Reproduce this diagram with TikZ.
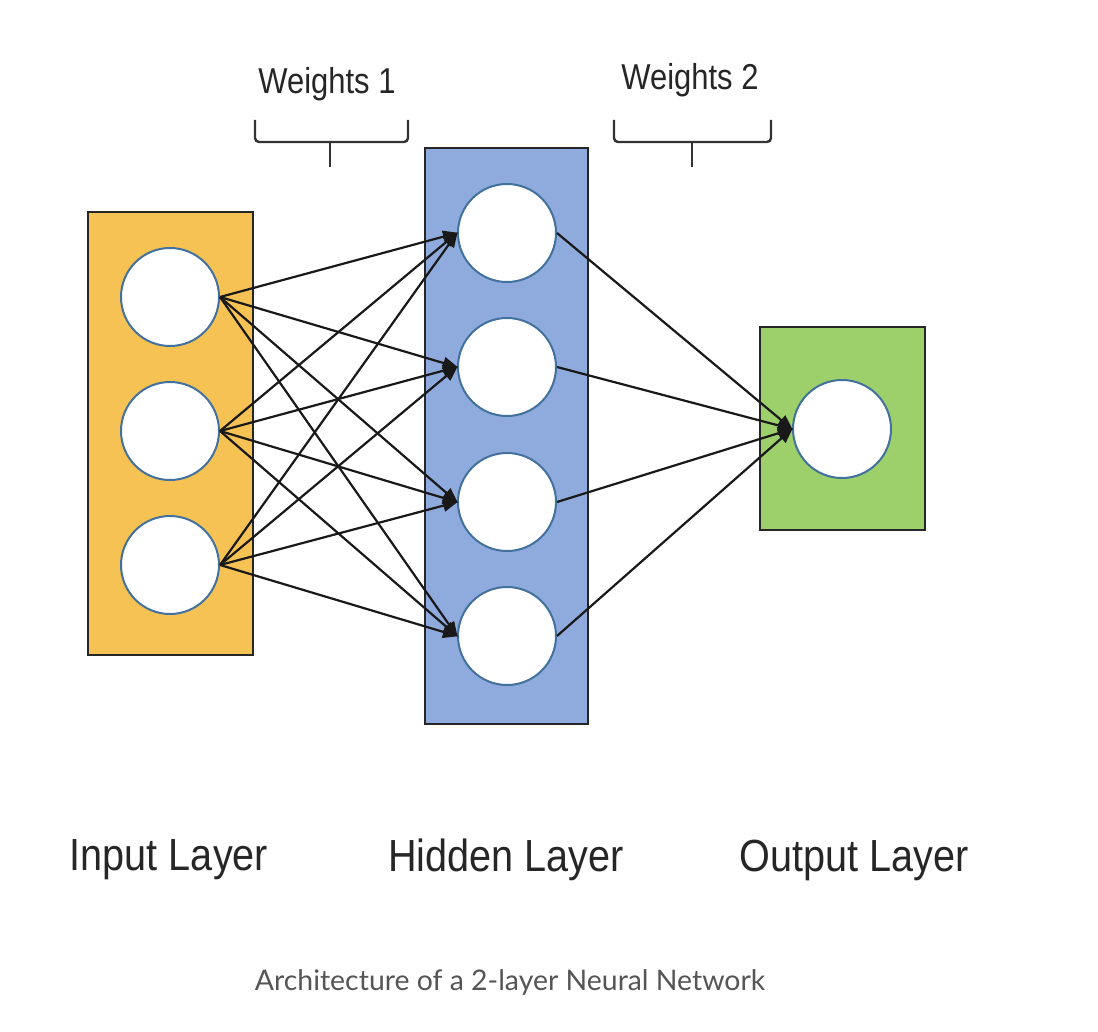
\documentclass[tikz,border=0pt]{standalone}
\usepackage{fontspec}
\setmainfont{Liberation Sans}
\newfontfamily\capfont{Lato}
\usetikzlibrary{arrows.meta}
\definecolor{inorange}{HTML}{F6C254}
\definecolor{hidblue}{HTML}{8FAADC}
\definecolor{outgreen}{HTML}{9DD06B}
\definecolor{ringblue}{HTML}{41719C}
\definecolor{capgray}{HTML}{555555}
\tikzset{
  layerbox/.style={draw=black!85, line width=2.2pt},
  neuron/.style={circle, draw=ringblue, line width=2pt, fill=white, minimum size=98pt, inner sep=0pt},
  conn/.style={draw=black!90, line width=2.2pt, -{Triangle[length=15pt,width=12pt]}, shorten >=-1pt},
  brace/.style={draw=black!80, line width=2.4pt, rounded corners=4pt},
  wlabel/.style={font=\fontsize{36}{40}\selectfont, text=black!85, inner sep=0pt},
  llabel/.style={font=\fontsize{45}{50}\selectfont, text=black!85, inner sep=0pt},
}
\begin{document}
\begin{tikzpicture}[x=1pt,y=-1pt]
\useasboundingbox[fill=white] (0,0) rectangle (1098,1032);
% layer boxes
\draw[layerbox, fill=inorange] (88,212) rectangle (253,655);
\draw[layerbox, fill=hidblue] (425,148) rectangle (588,724);
\draw[layerbox, fill=outgreen] (760,327) rectangle (925,530);
% neurons
\node[neuron] (i1) at (170,297) {};
\node[neuron] (i2) at (170,431) {};
\node[neuron] (i3) at (170,565) {};
\node[neuron] (h1) at (507,233) {};
\node[neuron] (h2) at (507,367) {};
\node[neuron] (h3) at (507,502) {};
\node[neuron] (h4) at (507,636) {};
\node[neuron] (o1) at (842,429) {};
% connections
\foreach \i in {1,2,3}{
  \foreach \h in {1,2,3,4}{
    \draw[conn] (i\i.east) -- (h\h.west);
  }
}
\foreach \h in {1,2,3,4}{
  \draw[conn] (h\h.east) -- (o1.west);
}
% braces
\draw[brace] (255,120) -- (255,142) -- (408,142) -- (408,120);
\draw[brace] (330,142) -- (330,167);
\draw[brace] (614,120) -- (614,142) -- (771,142) -- (771,120);
\draw[brace] (692,142) -- (692,167);
% labels
\node[wlabel] (w1) at (327,84) {\scalebox{0.86}[1]{Weights 1}};
\node[wlabel] (w2) at (690,80) {\scalebox{0.86}[1]{Weights 2}};
\node[llabel] (li) at (169,860) {\scalebox{0.88}[1]{Input Layer}};
\node[llabel] (lh) at (506,860) {\scalebox{0.88}[1]{Hidden Layer}};
\node[llabel] (lo) at (854,860) {\scalebox{0.88}[1]{Output Layer}};
\node[font=\capfont\fontsize{28.4}{34}\selectfont, text=capgray, inner sep=0pt] (cap) at (510,982) {Architecture of a 2-layer Neural Network};
\end{tikzpicture}
\end{document}
